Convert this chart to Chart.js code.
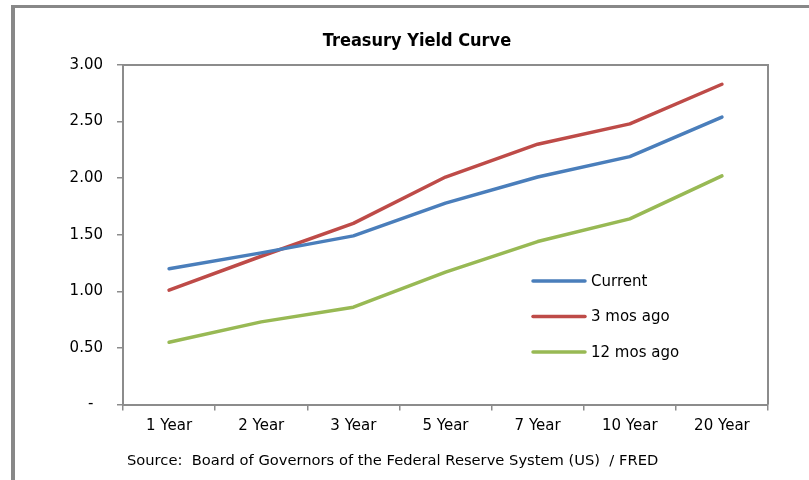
<!DOCTYPE html>
<html>
<head>
<meta charset="utf-8">
<script src="https://cdn.jsdelivr.net/npm/chart.js@4.4.1/dist/chart.umd.min.js"></script>
<style>
html,body{margin:0;padding:0;background:#fff;}
canvas{display:block;}
</style>
</head>
<body>
<canvas id="c" width="809" height="480"></canvas>
<script>
const categories = ['1 Year','2 Year','3 Year','5 Year','7 Year','10 Year','20 Year'];
const seriesNames = ['Current','3 mos ago','12 mos ago'];
const current = [1.20, 1.34, 1.49, 1.78, 2.01, 2.19, 2.54];
const threeMonthsAgo = [1.01, 1.31, 1.60, 2.01, 2.30, 2.48, 2.83];
const twelveMonthsAgo = [0.55, 0.73, 0.86, 1.17, 1.44, 1.64, 2.02];
const yTicks = [0, 0.5, 1.0, 1.5, 2.0, 2.5, 3.0];
const titleText = 'Treasury Yield Curve';
const sourceText = 'Source:  Board of Governors of the Federal Reserve System (US)  / FRED';
const colors = ['#4A7EBB', '#BE4B48', '#98B954'];
const axisGray = '#8c8c8c';
const condensed = '"DejaVu Sans Condensed", "DejaVu Sans", sans-serif';
const regular = '"DejaVu Sans", sans-serif';

const decor = {
  id: 'decor',
  beforeDraw(chart) {
    const ctx = chart.ctx;
    ctx.save();
    ctx.fillStyle = '#fff';
    ctx.fillRect(0, 0, chart.width, chart.height);
    ctx.fillStyle = '#888888';
    ctx.fillRect(11, 5, 4, chart.height - 5);
    ctx.fillRect(11, 5, chart.width - 11, 3);
    ctx.restore();
  },
  beforeDatasetsDraw(chart) {
    const ctx = chart.ctx, a = chart.chartArea;
    ctx.save();
    ctx.strokeStyle = axisGray;
    ctx.lineWidth = 2;
    ctx.beginPath();
    ctx.moveTo(a.left, a.top);
    ctx.lineTo(a.right, a.top);
    ctx.lineTo(a.right, a.bottom);
    ctx.stroke();
    ctx.restore();
  },
  afterDraw(chart) {
    const ctx = chart.ctx, a = chart.chartArea;
    ctx.save();
    // title
    ctx.fillStyle = '#000';
    ctx.font = 'bold 18px ' + condensed;
    ctx.textAlign = 'center';
    ctx.textBaseline = 'alphabetic';
    ctx.fillText(titleText, 417, 46);
    // legend
    const lx = a.left + 410, ly0 = a.top + 216, gap = 35.5;
    chart.data.datasets.forEach((ds, i) => {
      const y = ly0 + i * gap;
      ctx.strokeStyle = ds.borderColor;
      ctx.lineWidth = 3.5;
      ctx.lineCap = 'round';
      ctx.beginPath();
      ctx.moveTo(lx, y);
      ctx.lineTo(lx + 52, y);
      ctx.stroke();
      ctx.fillStyle = '#000';
      ctx.font = '15px ' + regular;
      ctx.textAlign = 'left';
      ctx.textBaseline = 'middle';
      ctx.fillText(ds.label, lx + 58, y + 1);
    });
    // source
    ctx.fillStyle = '#000';
    ctx.font = '14.7px ' + regular;
    ctx.textAlign = 'left';
    ctx.textBaseline = 'middle';
    ctx.fillText(sourceText, 127, 461);
    ctx.restore();
  }
};

const seriesValues = [current, threeMonthsAgo, twelveMonthsAgo];
new Chart(document.getElementById('c'), {
  type: 'line',
  data: {
    labels: categories,
    datasets: seriesValues.map((vals, i) => ({
      label: seriesNames[i],
      data: vals,
      borderColor: colors[i],
      backgroundColor: colors[i],
      borderWidth: 3.5,
      pointRadius: 0,
      tension: 0,
      borderCapStyle: 'round',
      borderJoinStyle: 'round',
      fill: false
    }))
  },
  options: {
    responsive: false,
    animation: false,
    devicePixelRatio: 1,
    layout: { padding: { top: 65, right: 41, left: 0, bottom: 0 } },
    plugins: {
      legend: { display: false },
      title: { display: false },
      tooltip: { enabled: false }
    },
    scales: {
      x: {
        type: 'category',
        offset: true,
        grid: { offset: true, drawOnChartArea: false, drawTicks: true, tickLength: 6, color: axisGray, lineWidth: 1.5 },
        border: { color: axisGray, width: 2 },
        ticks: { color: '#000', font: { family: regular, size: 15 }, padding: 7, maxRotation: 0, autoSkip: false },
        afterFit(s) { s.height = 480 - 404.5; }
      },
      y: {
        min: 0, max: 3,
        afterBuildTicks(s) { s.ticks = yTicks.map(v => ({ value: v })); },
        grid: { drawOnChartArea: false, drawTicks: true, tickLength: 6, color: axisGray, lineWidth: 1.5 },
        border: { color: axisGray, width: 2 },
        ticks: {
          color: '#000',
          font: { family: regular, size: 15 },
          padding: 14,
          callback: v => v === 0 ? '-  ' : Number(v).toFixed(2)
        },
        afterFit(s) { s.width = 123; }
      }
    }
  },
  plugins: [decor]
});
</script>
</body>
</html>
